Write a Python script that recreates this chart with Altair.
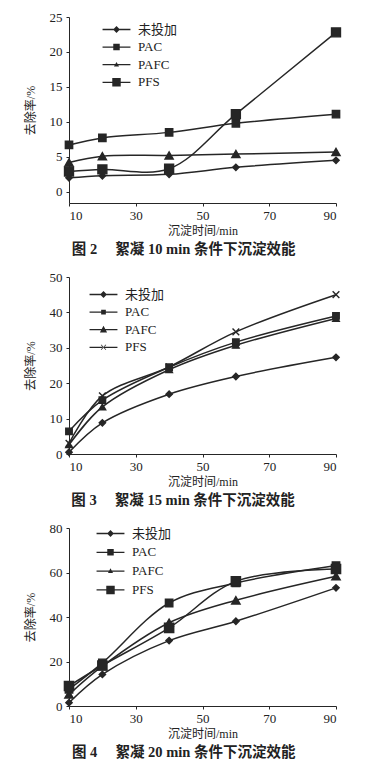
import altair as alt
import pandas as pd

# ---------------- data ----------------
times = [10, 20, 40, 60, 90]
series_names = ["未投加", "PAC", "PAFC", "PFS"]

# Fig 2: flocculation 10 min
fig2_untreated = [2.0, 2.3, 2.5, 3.5, 4.5]
fig2_pac = [6.7, 7.7, 8.5, 9.8, 11.1]
fig2_pafc = [4.2, 5.1, 5.2, 5.4, 5.7]
fig2_pfs = [2.9, 3.2, 3.3, 11.1, 22.8]

# Fig 3: flocculation 15 min
fig3_untreated = [0.5, 8.8, 16.9, 21.9, 27.3]
fig3_pac = [6.4, 15.2, 24.5, 31.6, 39.0]
fig3_pafc = [2.6, 13.3, 23.8, 30.7, 38.3]
fig3_pfs = [3.0, 16.4, 24.6, 34.5, 45.0]

# Fig 4: flocculation 20 min
fig4_untreated = [1.5, 14.2, 29.4, 38.1, 53.1]
fig4_pac = [7.5, 19.4, 46.3, 55.3, 63.1]
fig4_pafc = [5.2, 17.9, 37.4, 47.5, 58.3]
fig4_pfs = [9.0, 18.2, 35.1, 56.0, 61.6]

x_ticks = [10, 30, 50, 70, 90]
captions = ["图 2\u3000\u00a0絮凝 10 min 条件下沉淀效能",
            "图 3\u3000\u00a0絮凝 15 min 条件下沉淀效能",
            "图 4\u3000\u00a0絮凝 20 min 条件下沉淀效能"]

FONT = "Liberation Serif, Noto Sans CJK SC"
INK = "#262626"

# marker paths
DIAMOND = "M0,-1L1,0L0,1L-1,0Z"
SQUARE = "square"
TRI = "triangle-up"
XMARK = "M-1,-1L1,1M-1,1L1,-1"

# legend paths (unit = 9 px): thin bar (line segment) plus marker
LINE = "M-1.55,-0.07H1.55V0.07H-1.55Z"
L_DIAMOND = LINE + "M0,-0.38L0.38,0L0,0.38L-0.38,0Z"
L_SQUARE_S = LINE + "M-0.26,-0.26H0.26V0.26H-0.26Z"
L_SQUARE_M = LINE + "M-0.36,-0.36H0.36V0.36H-0.36Z"
L_SQUARE_L = LINE + "M-0.47,-0.47H0.47V0.47H-0.47Z"
L_TRI_S = LINE + "M0,-0.31L0.28,0.2L-0.28,0.2Z"
L_TRI_L = LINE + "M0,-0.43L0.4,0.31L-0.4,0.31Z"
L_X = LINE + ("M-0.3,-0.25L-0.25,-0.3L0.3,0.25L0.25,0.3Z"
              "M-0.3,0.25L-0.25,0.3L0.3,-0.25L0.25,-0.3Z")


def make_df(u, pac, pafc, pfs):
    rows = []
    for name, vals in zip(series_names, [u, pac, pafc, pfs]):
        for t, v in zip(times, vals):
            rows.append({"time": t, "rate": v, "series": name, "legend": name})
    return pd.DataFrame(rows)


def panel(df, ydom, yticks, shapes, sizes, legend_paths, height, legend_xy, row_pad, caption):
    base = alt.Chart(df)
    x = alt.X("time:Q",
              scale=alt.Scale(domain=[10, 90], nice=False, zero=False),
              axis=alt.Axis(values=x_ticks, title="沉淀时间/min", grid=False,
                            labelFont=FONT, labelFontSize=13, labelColor="#222",
                            titleFont=FONT, titleFontSize=12, titleFontWeight="normal",
                            titleColor="#222", tickSize=3, tickColor=INK,
                            domainColor=INK, labelPadding=3, titlePadding=3))
    y = alt.Y("rate:Q",
              scale=alt.Scale(domain=ydom, nice=False, zero=False),
              axis=alt.Axis(values=yticks, title="去除率/%", grid=False,
                            labelFont=FONT, labelFontSize=13, labelColor="#222",
                            titleFont=FONT, titleFontSize=12, titleFontWeight="normal",
                            titleColor="#222", tickSize=3, tickColor=INK,
                            domainColor=INK, labelPadding=4, titlePadding=12))
    lines = base.mark_line(interpolate="catmull-rom", color=INK, strokeWidth=1.5).encode(
        x=x, y=y, detail="series:N")
    points = base.mark_point(filled=True, color=INK, stroke=INK, strokeWidth=1.4, opacity=1).encode(
        x=x, y=y,
        shape=alt.Shape("series:N", scale=alt.Scale(domain=series_names, range=shapes), legend=None),
        size=alt.Size("series:N", scale=alt.Scale(domain=series_names, range=sizes), legend=None),
    )
    leg = base.mark_point(filled=True, color=INK, opacity=0).encode(
        x=x, y=y,
        shape=alt.Shape("legend:N", scale=alt.Scale(domain=series_names, range=legend_paths),
                        legend=alt.Legend(title=None, orient="none",
                                          legendX=legend_xy[0], legendY=legend_xy[1],
                                          symbolSize=324, symbolOpacity=1,
                                          symbolFillColor=INK, symbolStrokeColor=INK,
                                          symbolStrokeWidth=0.5,
                                          labelFont=FONT, labelFontSize=13, labelColor="#222",
                                          labelOffset=12, rowPadding=row_pad)),
    )
    return alt.layer(lines, points, leg).resolve_scale(shape="independent", size="independent").properties(
        width=267, height=height,
        title=alt.TitleParams(caption, orient="bottom", anchor="middle", frame="bounds",
                              font=FONT, fontSize=14.5, fontWeight="bold", color="#222", offset=7))


p1 = panel(make_df(fig2_untreated, fig2_pac, fig2_pafc, fig2_pfs), [-1.6, 25], [0, 5, 10, 15, 20, 25],
           [DIAMOND, SQUARE, TRI, SQUARE], [40, 80, 30, 140],
           [L_DIAMOND, L_SQUARE_M, L_TRI_S, L_SQUARE_L], 186, (38, 3), 0.6, captions[0])
p2 = panel(make_df(fig3_untreated, fig3_pac, fig3_pafc, fig3_pfs), [0, 50], [0, 10, 20, 30, 40, 50],
           [DIAMOND, SQUARE, TRI, XMARK], [40, 45, 70, 40],
           [L_DIAMOND, L_SQUARE_S, L_TRI_L, L_X], 177, (25, 8), 0.6, captions[1])
p3 = panel(make_df(fig4_untreated, fig4_pac, fig4_pafc, fig4_pfs), [0, 80], [0, 20, 40, 60, 80],
           [DIAMOND, SQUARE, TRI, SQUARE], [40, 85, 55, 160],
           [L_DIAMOND, L_SQUARE_M, L_TRI_S, L_SQUARE_L], 178, (32, -4), 1.8, captions[2])

chart = alt.vconcat(p1, p2, p3, spacing=14).properties(
    padding={"left": 16, "top": 3, "right": 5, "bottom": 5},
    background="white",
).configure_view(stroke=None)

chart.save("out.html", embed_options={"renderer": "svg", "actions": False})
